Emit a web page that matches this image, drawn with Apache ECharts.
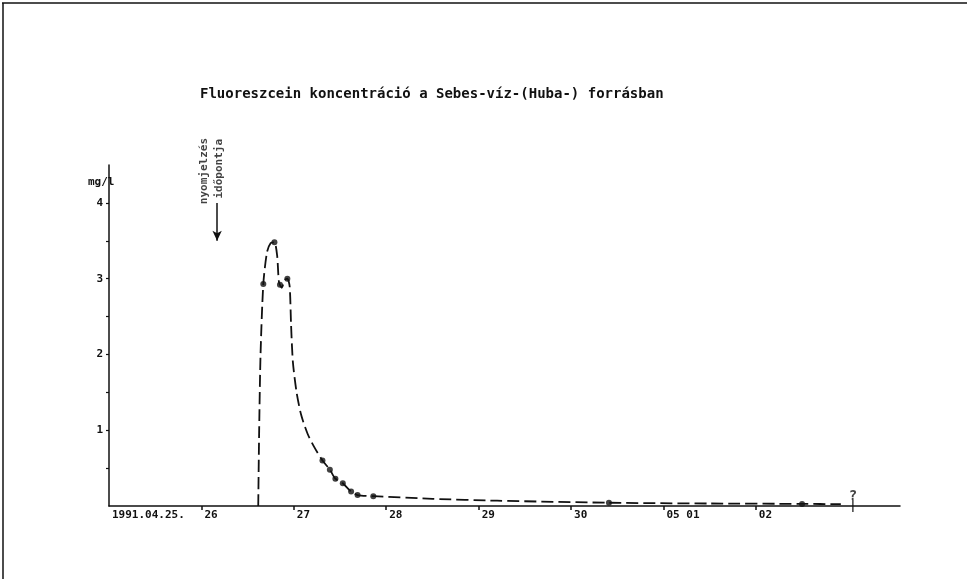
<!DOCTYPE html>
<html>
<head>
<meta charset="utf-8">
<script src="https://cdn.jsdelivr.net/npm/echarts@6/dist/echarts.min.js"></script>
<style>
  html, body { margin: 0; padding: 0; background: #fff; }
  #chart { width: 967px; height: 579px; }
</style>
</head>
<body>
<div id="chart"></div>
<script>
// days counted from 1991.04.25. 00h
const dayTicks = [0, 1, 2, 3, 4, 5, 6, 7]
const dayLabels = ['1991.04.25.', '26', '27', '28', '29', '30', '05 01', '02']
const yTicks = [0.5, 1, 1.5, 2, 2.5, 3, 3.5, 4]
const yLabels = [1, 2, 3, 4]

// dashed curve as drawn (mg/l)
const curveDays = [1.615, 1.625, 1.64, 1.67, 1.71, 1.75, 1.79, 1.82, 1.84, 1.87, 1.90, 1.93, 1.955, 1.97, 1.99, 2.03, 2.08, 2.15, 2.22, 2.31, 2.39, 2.45, 2.53, 2.62, 2.69, 2.86, 3.5, 4.2, 5.41, 6.5, 7.5, 7.92]
const curveVals = [0.0, 1.0, 2.0, 2.93, 3.35, 3.47, 3.48, 3.3, 2.95, 2.88, 2.98, 3.0, 2.9, 2.4, 1.9, 1.5, 1.2, 0.95, 0.78, 0.6, 0.48, 0.36, 0.3, 0.19, 0.145, 0.13, 0.095, 0.07, 0.043, 0.033, 0.028, 0.024]

// measured samples (dots)
const dotDays = [1.67, 1.79, 1.85, 1.93, 2.31, 2.39, 2.45, 2.53, 2.62, 2.69, 2.86, 5.41, 7.5]
const dotVals = [2.93, 3.48, 2.92, 3.0, 0.6, 0.48, 0.36, 0.3, 0.19, 0.145, 0.13, 0.043, 0.028]

const unknownDay = 8.05
const injectDay = 1.17

const FONT = 'DejaVu Sans Mono'
const INK = '#111'

const chart = echarts.init(document.getElementById('chart'))

chart.setOption({
  animation: false,
  backgroundColor: '#fff',
  title: {
    text: 'Fluoreszcein koncentráció a Sebes-víz-(Huba-) forrásban',
    left: 195,
    top: 82,
    textStyle: { fontFamily: FONT, fontSize: 14, fontWeight: 'bold', color: INK }
  },
  grid: { left: 109, right: 67, top: 165, bottom: 73 },
  xAxis: {
    type: 'value',
    min: 0,
    max: 8.56,
    interval: 1,
    splitLine: { show: false },
    axisLine: { lineStyle: { color: INK, width: 1.5 } },
    axisTick: { customValues: dayTicks.slice(1), length: 4, lineStyle: { color: INK, width: 1.5 } },
    axisLabel: {
      customValues: dayTicks,
      formatter: v => dayLabels[dayTicks.indexOf(Math.round(v))] || '',
      align: 'left',
      padding: [0, 0, 0, 3],
      margin: 4,
      fontFamily: FONT, fontSize: 11, fontWeight: 'bold', color: INK
    }
  },
  yAxis: {
    type: 'value',
    min: 0,
    max: 4.5,
    interval: 0.5,
    splitLine: { show: false },
    axisLine: { show: true, lineStyle: { color: INK, width: 1.5 } },
    axisTick: { show: true, customValues: yTicks, length: 3, lineStyle: { color: INK, width: 1.2 } },
    axisLabel: {
      customValues: yLabels,
      margin: 6,
      fontFamily: FONT, fontSize: 11, fontWeight: 'bold', color: INK
    }
  },
  graphic: [
    { type: 'line', shape: { x1: 2, y1: 3, x2: 967, y2: 3 }, style: { stroke: INK, lineWidth: 1.5 } },
    { type: 'line', shape: { x1: 3, y1: 3, x2: 3, y2: 579 }, style: { stroke: INK, lineWidth: 1.5 } },
    {
      type: 'text', left: 88, top: 177,
      style: { text: 'mg/l', font: 'bold 11px "DejaVu Sans Mono"', fill: INK }
    }
  ],
  series: [
    {
      type: 'line',
      data: curveDays.map((d, i) => [d, curveVals[i]]),
      smooth: 0.25,
      showSymbol: false,
      lineStyle: { color: INK, width: 1.8, type: [12, 5] },
      z: 2
    },
    {
      type: 'scatter',
      data: dotDays.map((d, i) => [d, dotVals[i]]),
      symbolSize: 6,
      itemStyle: { color: INK },
      z: 3
    },
    {
      // tracer injection time marker
      type: 'line',
      data: [],
      markLine: {
        silent: true,
        symbol: ['none', 'arrow'],
        symbolSize: [7, 10],
        lineStyle: { color: INK, width: 1.5, type: 'solid' },
        label: { show: false },
        data: [[{ coord: [injectDay, 4.0] }, { coord: [injectDay, 3.5] }]]
      }
    },
    {
      type: 'scatter',
      symbolSize: 0,
      data: [
        { value: [1.03, 4.42], name: 'nyomjelzés' },
        { value: [1.19, 4.45], name: 'időpontja' }
      ],
      label: {
        show: true,
        position: 'inside',
        rotate: 90,
        formatter: p => p.name,
        fontFamily: FONT, fontSize: 11, fontWeight: 'bold', color: INK
      }
    },
    {
      type: 'scatter',
      symbol: 'rect',
      symbolSize: [1.5, 12],
      data: [[unknownDay, 0]],
      itemStyle: { color: INK },
      label: {
        show: true,
        position: 'top',
        distance: -3,
        formatter: '?',
        fontFamily: FONT, fontSize: 14, fontWeight: 'bold', color: INK
      }
    }
  ]
})
</script>
</body>
</html>
